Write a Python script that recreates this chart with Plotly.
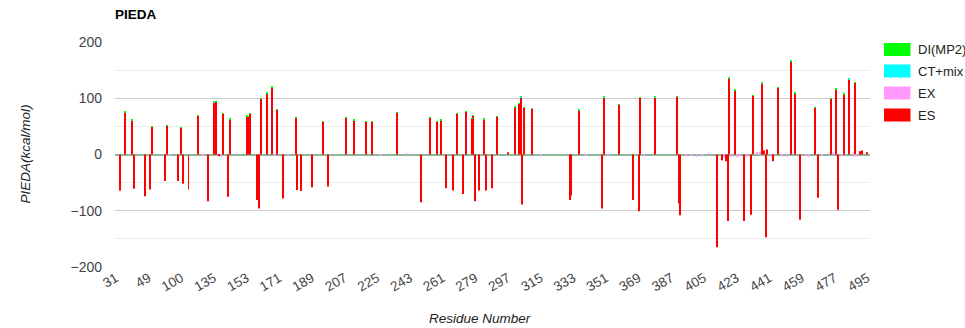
import plotly.graph_objects as go

# ---- categories (residue numbers on a categorical axis) ----
residue_segments = [(31, 66), (100, 117), (135, 496)]
residues = []
for a, b in residue_segments:
    residues.extend(range(a, b + 1))
categories = [str(r) for r in residues]

tick_labels = ["31", "49", "100", "135", "153", "171", "189", "207", "225", "243",
               "261", "279", "297", "315", "333", "351", "369", "387", "405", "423",
               "441", "459", "477", "495"]

# ---- series values (sparse: residue -> kcal/mol) ----
es_residues = [33, 36, 40, 41, 47, 50, 51, 58, 59, 65, 100, 101, 104, 109, 115,
               135, 136, 138, 140, 143, 144, 153, 154, 155, 159, 160, 161, 164, 167,
               170, 173, 180, 181, 183, 189, 195, 198, 208, 212, 219, 222, 236, 249,
               254, 258, 260, 263, 267, 269, 272, 274, 277, 278, 279, 281, 284, 285,
               288, 291, 297, 301, 303, 304, 305, 306, 310, 331, 332, 336, 349, 350,
               358, 366, 369, 370, 378, 390, 391, 392, 412, 415, 417, 418, 419, 422,
               427, 431, 432, 437, 438, 439, 440, 443, 446, 453, 455, 458, 466, 468,
               475, 478, 479, 482, 485, 488, 491, 492, 495]
es_values = [-64, 75, 61, -61, -74, -62, 49, -47, 51, -47, 48, -52, -62, 69, -83,
             93, 94, -3, 73, -75, 63, 68, 67, 72, -81, -96, 99, 109, 119,
             80, -78, 66, -63, -65, -58, 58, -57, 66, 61, 58, 58, 74, -85,
             66, 58, 61, -60, -64, 72, -70, 76, 64, 69, -83, -64, 63, -64,
             -60, 67, 4, 84, 90, 102, -89, 83, 82, -81, -73, 79, -96, 102,
             89, -81, -101, 101, 102, 103, -87, -108, -165, -10, -12, -118, 135, 114,
             -118, -107, 104, 127, 7, -147, 9, -12, 119, 165, 109, -116, 83, -77,
             99, 116, -98, 107, 134, 128, 6, 7, 4]

ex_residues = [61, 112, 139, 168, 176, 227, 241, 315, 340, 352, 372, 395, 398, 401,
               404, 408, 416, 420, 423, 425, 429, 434, 436, 442, 448, 451, 461, 463,
               470, 476, 481, 487, 489]
ex_values = [-2, -3, -4, -2, -3, -2, 2, -3, -2, -3, -2, -3, -2, -4,
             -3, 2, -5, -4, -5, -3, -4, 4, 5, -4, -3, -4, -3, -4,
             -2, 3, -3, -4, -3]

ct_residues = [36, 104, 135, 161, 167, 236, 304, 350, 378, 419, 437, 453, 485]
ct_values = [0.5, 0.5, 0.6, 0.6, 0.6, 0.5, 0.6, 0.6, 0.5, 0.7, 0.6, 0.7, 0.6]

di_residues = [36, 40, 51, 59, 100, 109, 135, 136, 140, 144, 153, 154, 155, 161, 164,
               167, 170, 180, 195, 208, 212, 219, 222, 236, 254, 258, 260, 269, 274,
               277, 278, 284, 291, 301, 303, 304, 306, 310, 336, 350, 358, 370, 378,
               390, 419, 422, 432, 437, 446, 453, 455, 466, 475, 478, 482, 485, 488]
di_values = [0.6, 0.6, 0.5, 0.6, 0.6, 0.7, 0.7, 0.6, 0.6, 0.6, 0.6, 0.6, 0.7, 0.7, 0.7,
             0.8, 0.6, 0.6, 0.5, 0.6, 0.6, 0.6, 0.6, 0.7, 0.6, 0.6, 0.6, 0.7, 0.7,
             0.6, 0.6, 0.6, 0.6, 0.7, 0.7, 0.8, 0.7, 0.6, 0.6, 0.7, 0.7, 0.7, 0.7,
             0.7, 0.8, 0.7, 0.7, 0.8, 0.7, 0.8, 0.7, 0.6, 0.7, 0.7, 0.7, 0.8, 0.8]

series_names = ["ES", "EX", "CT+mix", "DI(MP2)"]
series_colors = ["#ff0000", "#ff99ff", "#00ffff", "#00ff00"]


def full_series(res, vals):
    lookup = dict(zip(res, vals))
    return [lookup.get(r, 0) for r in residues]


series_data = [full_series(es_residues, es_values),
               full_series(ex_residues, ex_values),
               full_series(ct_residues, ct_values),
               full_series(di_residues, di_values)]

fig = go.Figure()
for name, color, vals in zip(series_names, series_colors, series_data):
    fig.add_trace(go.Bar(x=categories, y=vals, name=name,
                         marker=dict(color=color, line=dict(width=0)),
                         showlegend=False))

W, H = 965, 328
L, R, T, B = 115, 95, 42, 61
pw, ph = W - L - R, H - T - B


def px_x(x):
    return (x - L) / pw


def px_y(y):
    return (H - B - y) / ph


font_family = "Liberation Sans, Arial, sans-serif"

# custom legend (DI on top, matching the stacked order)
legend_rows = [("DI(MP2)", "#00ff00", 43), ("CT+mix", "#00ffff", 64.5),
               ("EX", "#ff99ff", 86.5), ("ES", "#ff0000", 108.5)]
shapes = []
annotations = []
for text, col, ytop in legend_rows:
    shapes.append(dict(type="rect", xref="paper", yref="paper",
                       x0=px_x(884), x1=px_x(910.5), y0=px_y(ytop), y1=px_y(ytop + 13),
                       fillcolor=col, line=dict(width=0)))
    annotations.append(dict(xref="paper", yref="paper", x=px_x(915.5), y=px_y(ytop + 6.5),
                            text=text, showarrow=False, xanchor="left", yanchor="middle",
                            font=dict(family=font_family, size=13, color="#222222")))

annotations.append(dict(xref="paper", yref="paper", x=px_x(25), y=0.5,
                        text="<i>PIEDA(kcal/mol)</i>", textangle=-90, showarrow=False,
                        xanchor="center", yanchor="middle",
                        font=dict(family=font_family, size=13.5, color="#222222")))
annotations.append(dict(xref="paper", yref="paper", x=px_x(480), y=px_y(318),
                        text="<i>Residue Number</i>", showarrow=False,
                        xanchor="center", yanchor="middle",
                        font=dict(family=font_family, size=13.5, color="#222222")))

fig.update_layout(
    width=W, height=H,
    margin=dict(l=L, r=R, t=T, b=B, pad=0),
    paper_bgcolor="white", plot_bgcolor="white",
    barmode="relative", bargap=0.45,
    showlegend=False,
    title=dict(text="<b>PIEDA</b>", x=L / W, xanchor="left", xref="container",
               y=1 - 14 / H, yanchor="middle", yref="container",
               font=dict(family=font_family, size=13.5, color="#000000")),
    font=dict(family=font_family, size=13.5, color="#444444"),
    shapes=shapes, annotations=annotations,
    xaxis=dict(type="category", categoryorder="array", categoryarray=categories,
               tickmode="array", tickvals=tick_labels, ticktext=tick_labels,
               tickangle=-30, showgrid=False, showline=False, zeroline=False,
               ticks="", automargin=False, tickfont=dict(size=13.5, color="#444444")),
    yaxis=dict(range=[-200, 200], tickmode="linear", tick0=0, dtick=100,
               showgrid=True, gridcolor="#cccccc", gridwidth=1,
               minor=dict(tickmode="linear", tick0=0, dtick=50, showgrid=True,
                          gridcolor="#ebebeb", gridwidth=1),
               zeroline=True, zerolinecolor="#8cba98", zerolinewidth=1.5,
               showline=False, ticks="", ticklabelstandoff=12, automargin=False,
               tickfont=dict(size=14, color="#444444")),
)

fig.write_html("out.html",
               config={"displayModeBar": False},
               post_script="document.body.style.margin='0';"
                           "document.body.style.overflow='hidden';")
